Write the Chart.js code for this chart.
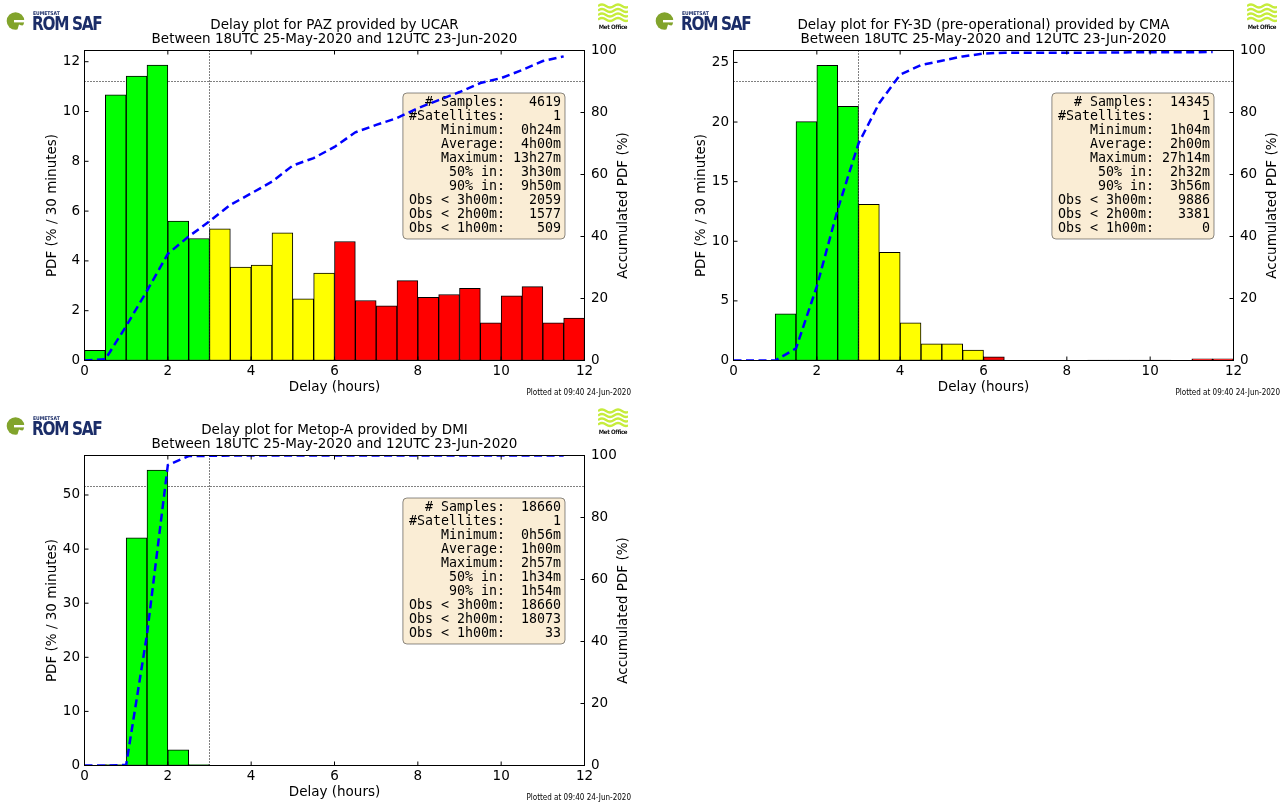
<!DOCTYPE html>
<html>
<head>
<meta charset="utf-8">
<script src="https://cdn.jsdelivr.net/npm/chart.js@4.4.1/dist/chart.umd.min.js"></script>
<style>
html, body { margin: 0; padding: 0; background: #fff; width: 1285px; height: 804px; overflow: hidden; }
.panel { position: absolute; width: 645px; height: 404px; }
.panel canvas { position: absolute; left: 0; top: 0; }
.romsaf { position: absolute; left: 6px; top: 9px; width: 96px; height: 26px; white-space: nowrap; }
.romsaf svg { position: absolute; left: 0px; top: 1px; }
.romsaf .eum { position: absolute; left: 27px; top: 1px; font: bold 5px "DejaVu Sans Condensed", "DejaVu Sans"; color: #1b2d68; }
.romsaf .rs { position: absolute; left: 26px; top: 3px; font: bold 17px "DejaVu Sans Condensed", "DejaVu Sans"; color: #1b2d68; letter-spacing: -1.3px; white-space: nowrap; transform: scaleY(1.1); transform-origin: left top; }
.metoffice { position: absolute; left: 596px; top: 2px; width: 34px; height: 30px; white-space: nowrap; }
.metoffice svg { position: absolute; left: 2px; top: 1px; }
.metoffice .mo { position: absolute; left: 0; top: 21px; width: 34px; text-align: center; font: bold 6px "DejaVu Sans Condensed", "DejaVu Sans"; color: #111; letter-spacing: -0.3px; }
</style>
</head>
<body>

<div class="panel" style="left:0px;top:0px"><canvas id="paz" width="645" height="404"></canvas></div>
<div class="panel" style="left:649px;top:0px"><canvas id="fy3d" width="645" height="404"></canvas></div>
<div class="panel" style="left:0px;top:405px"><canvas id="metop" width="645" height="404"></canvas></div>

<script>
// bins of 30 minutes, centres in hours
const binCentres = [0.25, 0.75, 1.25, 1.75, 2.25, 2.75, 3.25, 3.75, 4.25, 4.75, 5.25, 5.75,
                    6.25, 6.75, 7.25, 7.75, 8.25, 8.75, 9.25, 9.75, 10.25, 10.75, 11.25, 11.75];
// accumulated PDF points
const cumHours = [0, 0.5, 1, 1.5, 2, 2.5, 3, 3.5, 4, 4.5, 5, 5.5,
                  6, 6.5, 7, 7.5, 8, 8.5, 9, 9.5, 10, 10.5, 11, 11.5];

const pazPdf = [0.41, 10.67, 11.42, 11.86, 5.60, 4.90, 5.29, 3.75, 3.83, 5.13, 2.48, 3.51,
                4.78, 2.41, 2.20, 3.21, 2.54, 2.65, 2.90, 1.51, 2.60, 2.97, 1.51, 1.70];
const pazCum = [0, 0.4, 11.1, 22.5, 34.4, 40.0, 44.9, 50.2, 53.9, 57.7, 62.9, 65.3,
                68.9, 73.6, 76.0, 78.2, 81.4, 84.0, 86.6, 89.5, 91.1, 93.7, 96.6, 98.1];

const fy3dPdf = [0, 0, 3.91, 20.03, 24.75, 21.31, 13.10, 9.08, 3.16, 1.40, 1.40, 0.87,
                 0.31, 0, 0, 0, 0, 0.04, 0.04, 0.04, 0.04, 0, 0.14, 0.14];
const fy3dCum = [0, 0, 0, 3.9, 23.9, 48.7, 70.0, 83.1, 92.2, 95.3, 96.7, 98.1,
                 99.0, 99.3, 99.3, 99.3, 99.3, 99.3, 99.35, 99.4, 99.4, 99.45, 99.45, 99.5];

const metopPdf = [0, 0.18, 42.1, 54.6, 2.9, 0.15, 0, 0, 0, 0, 0, 0,
                  0, 0, 0, 0, 0, 0, 0, 0, 0, 0, 0, 0];
const metopCum = [0, 0, 0.2, 42.3, 96.9, 99.8, 99.9, 100, 100, 100, 100, 100,
                  100, 100, 100, 100, 100, 100, 100, 100, 100, 100, 100, 100];

const statLabels = ['# Samples:', '#Satellites:', 'Minimum:', 'Average:', 'Maximum:',
                    '50% in:', '90% in:', 'Obs < 3h00m:', 'Obs < 2h00m:', 'Obs < 1h00m:'];
const pazStats = ['4619', '1', '0h24m', '4h00m', '13h27m', '3h30m', '9h50m', '2059', '1577', '509'];
const fy3dStats = ['14345', '1', '1h04m', '2h00m', '27h14m', '2h32m', '3h56m', '9886', '3381', '0'];
const metopStats = ['18660', '1', '0h56m', '1h00m', '2h57m', '1h34m', '1h54m', '18660', '18073', '33'];

const period = 'Between 18UTC 25-May-2020 and 12UTC 23-Jun-2020';
const plottedAt = 'Plotted at 09:40 24-Jun-2020';

Chart.defaults.font.family = '"DejaVu Sans", sans-serif';
Chart.defaults.font.size = 13.5;
Chart.defaults.color = '#000';

// frame, inward ticks, titles and the stats box
const decorPlugin = {
    id: 'decor',
    beforeDatasetsDraw(chart, args, opts) {
        const ctx = chart.ctx;
        const a = chart.chartArea;
        ctx.save();
        ctx.font = '13.3px "DejaVu Sans Mono", monospace';
        const lines = statLabels.map((l, i) => l.padStart(12) + opts.stats[i].padStart(7));
        const w = Math.max(...lines.map(s => ctx.measureText(s).width));
        const right = a.right - 19.5;
        const top = a.top + 42.5;
        const left = right - w - 10;
        ctx.beginPath();
        ctx.roundRect(left, top, right - left, 146, 4);
        ctx.fillStyle = 'rgba(245,222,179,0.55)';
        ctx.fill();
        ctx.strokeStyle = 'rgba(0,0,0,0.45)';
        ctx.lineWidth = 1;
        ctx.stroke();
        ctx.fillStyle = '#000';
        ctx.textAlign = 'right';
        ctx.textBaseline = 'middle';
        lines.forEach((s, i) => ctx.fillText(s, right - 4, top + 9.5 + i * 14));
        ctx.restore();
    },
    afterDraw(chart, args, opts) {
        const ctx = chart.ctx;
        const a = chart.chartArea;
        const sx = chart.scales.x, sy = chart.scales.y, sy2 = chart.scales.y2;
        ctx.save();
        ctx.strokeStyle = '#000';
        ctx.lineWidth = 1;
        ctx.beginPath();
        sx.ticks.forEach(t => {
            const p = sx.getPixelForValue(t.value);
            ctx.moveTo(p, a.bottom); ctx.lineTo(p, a.bottom - 4);
            ctx.moveTo(p, a.top); ctx.lineTo(p, a.top + 4);
        });
        sy.ticks.forEach(t => {
            const p = sy.getPixelForValue(t.value);
            ctx.moveTo(a.left, p); ctx.lineTo(a.left + 4, p);
        });
        sy2.ticks.forEach(t => {
            const p = sy2.getPixelForValue(t.value);
            ctx.moveTo(a.right, p); ctx.lineTo(a.right - 4, p);
        });
        ctx.stroke();
        ctx.strokeRect(a.left, a.top, a.right - a.left, a.bottom - a.top);

        ctx.fillStyle = '#000';
        ctx.font = '13.5px "DejaVu Sans"';
        ctx.textAlign = 'center';
        ctx.textBaseline = 'middle';
        const cx = (a.left + a.right) / 2;
        ctx.fillText(opts.title, cx, a.top - 25.5);
        ctx.fillText(period, cx, a.top - 11.5);

        ctx.save();
        ctx.translate(a.right + 38.5, (a.top + a.bottom) / 2);
        ctx.rotate(-Math.PI / 2);
        ctx.fillText('Accumulated PDF (%)', 0, 0);
        ctx.restore();

        ctx.font = '8px "DejaVu Sans Condensed", "DejaVu Sans"';
        ctx.textAlign = 'right';
        ctx.fillText(plottedAt, 631, 393);
        ctx.restore();
    }
};

function binColour(h) {
    if (h < 3) return '#00ff00';
    if (h < 6) return '#ffff00';
    return '#ff0000';
}

function makePanel(id, pdf, cum, yMax, yStep, title, stats) {
    const ctx = document.getElementById(id);
    return new Chart(ctx, {
        type: 'bar',
        data: {
            datasets: [
                {
                    type: 'line',
                    data: cumHours.map((h, i) => ({ x: h, y: cum[i] })),
                    yAxisID: 'y2',
                    borderColor: '#0000ff',
                    borderWidth: 2.5,
                    borderDash: [8, 4.5],
                    pointRadius: 0,
                    tension: 0,
                    order: 0,
                },
                {
                    type: 'bar',
                    data: binCentres.map((h, i) => ({ x: h, y: pdf[i] })),
                    yAxisID: 'y',
                    backgroundColor: binCentres.map(binColour),
                    borderColor: '#000',
                    borderWidth: 1,
                    borderSkipped: false,
                    barPercentage: 1,
                    categoryPercentage: 1,
                    order: 1,
                },
                {
                    type: 'line',
                    data: [{ x: 0, y: 90 }, { x: 12, y: 90 }],
                    yAxisID: 'y2',
                    borderColor: '#000',
                    borderWidth: 1,
                    borderDash: [1, 2],
                    pointRadius: 0,
                    order: 2,
                },
                {
                    type: 'line',
                    data: [{ x: 3, y: 0 }, { x: 3, y: 100 }],
                    yAxisID: 'y2',
                    borderColor: '#000',
                    borderWidth: 1,
                    borderDash: [1, 2],
                    pointRadius: 0,
                    order: 2,
                },
            ],
        },
        options: {
            responsive: false,
            animation: false,
            devicePixelRatio: 1,
            layout: { padding: { top: 50.5, left: 0, right: 0, bottom: 0 } },
            plugins: {
                legend: { display: false },
                tooltip: { enabled: false },
                decor: { title: title, stats: stats },
            },
            scales: {
                x: {
                    type: 'linear',
                    min: 0,
                    max: 12,
                    offset: false,
                    grid: { display: false, drawTicks: false, offset: false },
                    border: { display: false },
                    ticks: { stepSize: 2, padding: 3, maxRotation: 0, includeBounds: false },
                    title: { display: true, text: 'Delay (hours)', padding: { top: 4, bottom: 8 } },
                    afterFit: s => { s.height = 43.5; },
                },
                y: {
                    position: 'left',
                    min: 0,
                    max: yMax,
                    grid: { display: false, drawTicks: false },
                    border: { display: false },
                    ticks: { stepSize: yStep, padding: 4.5, includeBounds: false },
                    title: { display: true, text: 'PDF (% / 30 minutes)', padding: { top: 44, bottom: 4 } },
                    afterFit: s => { s.width = 84.5; },
                },
                y2: {
                    position: 'right',
                    min: 0,
                    max: 100,
                    grid: { display: false, drawTicks: false },
                    border: { display: false },
                    ticks: { stepSize: 20, padding: 6.5 },
                    afterFit: s => { s.width = 60.5; },
                },
            },
        },
        plugins: [decorPlugin],
    });
}

makePanel('paz', pazPdf, pazCum, 12.45, 2, 'Delay plot for PAZ provided by UCAR', pazStats);
makePanel('fy3d', fy3dPdf, fy3dCum, 26.0, 5, 'Delay plot for FY-3D (pre-operational) provided by CMA', fy3dStats);
makePanel('metop', metopPdf, metopCum, 57.3, 10, 'Delay plot for Metop-A provided by DMI', metopStats);

// logos
const romsafHtml = '<div class="romsaf">' +
    '<svg width="19" height="21" viewBox="0 0 19 21">' +
    '<circle cx="9.5" cy="11" r="8.8" fill="#82a42c"/>' +
    '<rect x="8" y="10" width="12" height="2.4" fill="#fff"/>' +
    '<path d="M13 14.5 Q16 16 19 15 L19 21 L11 21 Z" fill="#fff"/>' +
    '</svg>' +
    '<div class="eum">EUMETSAT</div><div class="rs">ROM SAF</div></div>';
const metHtml = '<div class="metoffice">' +
    '<svg width="30" height="20" viewBox="0 0 30 20" fill="none" stroke="#c6ec3c" stroke-width="2.2">' +
    '<path d="M0 3 Q4 0 8 3 T16 3 T24 3 T32 3"/>' +
    '<path d="M0 7.5 Q4 4.5 8 7.5 T16 7.5 T24 7.5 T32 7.5"/>' +
    '<path d="M0 12 Q4 9 8 12 T16 12 T24 12 T32 12"/>' +
    '<path d="M0 16.5 Q4 13.5 8 16.5 T16 16.5 T24 16.5 T32 16.5"/>' +
    '</svg><div class="mo">Met Office</div></div>';
document.querySelectorAll('.panel').forEach(p => {
    p.insertAdjacentHTML('beforeend', romsafHtml + metHtml);
});
</script>
</body>
</html>
